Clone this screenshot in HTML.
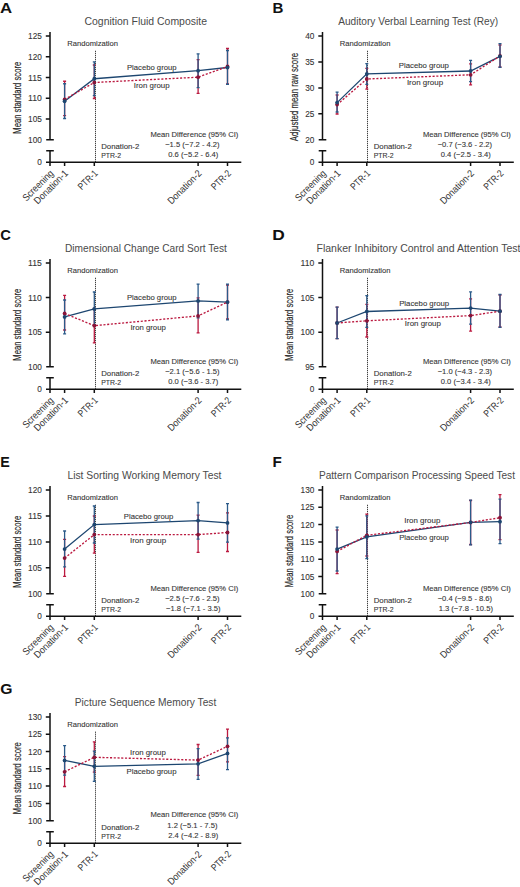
<!DOCTYPE html>
<html><head><meta charset="utf-8"><style>
html,body{margin:0;padding:0;background:#fff;}
svg{display:block;}
text{font-family:"Liberation Sans", sans-serif;}
text.s{stroke:#3a3a3a;stroke-width:0.1px;}
</style></head><body>
<svg width="520" height="887" viewBox="0 0 520 887">
<rect width="520" height="887" fill="#fff"/>
<text transform="translate(-0.1,12.75) scale(1.136,1)" font-size="14.8" font-weight="bold" fill="#111">A</text>
<text x="84.5" y="25.3" font-size="10.6" fill="#4a4a4a" textLength="122.5" lengthAdjust="spacingAndGlyphs">Cognition Fluid Composite</text>
<text transform="translate(20.9,97.75) rotate(-90)" x="0" y="0" text-anchor="middle" font-size="10.2" fill="#2a2a2a" stroke="#2a2a2a" stroke-width="0.18" textLength="71.9" lengthAdjust="spacingAndGlyphs">Mean standard score</text>
<path d="M50 32V139.8 M46.2 139.8H53.8 M46.2 150.8H53.8 M50 150.8V162.3 M46 162.3H241.3 M45.8 36H50 M45.8 56.76H50 M45.8 77.52H50 M45.8 98.28H50 M45.8 119.04H50 M50 162.3V166 M64.6 162.3V166 M94.3 162.3V166 M198.1 162.3V166 M227.5 162.3V166" stroke="#111" stroke-width="1.5" fill="none"/>
<text x="41.9" y="39.1" font-size="8.8" fill="#333" text-anchor="end" textLength="13.8" lengthAdjust="spacingAndGlyphs" class="s">125</text>
<text x="41.9" y="59.86" font-size="8.8" fill="#333" text-anchor="end" textLength="13.8" lengthAdjust="spacingAndGlyphs" class="s">120</text>
<text x="41.9" y="80.62" font-size="8.8" fill="#333" text-anchor="end" textLength="13.8" lengthAdjust="spacingAndGlyphs" class="s">115</text>
<text x="41.9" y="101.38" font-size="8.8" fill="#333" text-anchor="end" textLength="13.8" lengthAdjust="spacingAndGlyphs" class="s">110</text>
<text x="41.9" y="122.14" font-size="8.8" fill="#333" text-anchor="end" textLength="13.8" lengthAdjust="spacingAndGlyphs" class="s">105</text>
<text x="41.9" y="142.9" font-size="8.8" fill="#333" text-anchor="end" textLength="13.8" lengthAdjust="spacingAndGlyphs" class="s">100</text>
<text x="41.9" y="165.4" font-size="8.8" fill="#333" text-anchor="end" textLength="4.6" lengthAdjust="spacingAndGlyphs" class="s">0</text>
<text x="67.3" y="45.7" font-size="7.5" fill="#333" textLength="50.7" lengthAdjust="spacingAndGlyphs" class="s">Randomization</text>
<path d="M95.5 50.8V162" stroke="#111" stroke-width="1" stroke-dasharray="1 1" fill="none"/>
<text transform="translate(54.1,174) rotate(-45)" x="0" y="0" text-anchor="end" font-size="9.9" fill="#333" textLength="39.2" lengthAdjust="spacingAndGlyphs">Screening</text>
<text transform="translate(68.7,174) rotate(-45)" x="0" y="0" text-anchor="end" font-size="9.9" fill="#333" textLength="43.6" lengthAdjust="spacingAndGlyphs">Donation-1</text>
<text transform="translate(98.4,174) rotate(-45)" x="0" y="0" text-anchor="end" font-size="9.9" fill="#333" textLength="23.5" lengthAdjust="spacingAndGlyphs">PTR-1</text>
<text transform="translate(202.2,174) rotate(-45)" x="0" y="0" text-anchor="end" font-size="9.9" fill="#333" textLength="43.4" lengthAdjust="spacingAndGlyphs">Donation-2</text>
<text transform="translate(231.6,174) rotate(-45)" x="0" y="0" text-anchor="end" font-size="9.9" fill="#333" textLength="23.5" lengthAdjust="spacingAndGlyphs">PTR-2</text>
<text x="150.4" y="136.5" font-size="7.7" fill="#333" textLength="88" lengthAdjust="spacingAndGlyphs" class="s">Mean Difference (95% CI)</text>
<text x="101.2" y="148.8" font-size="7.7" fill="#333" textLength="38.1" lengthAdjust="spacingAndGlyphs" class="s">Donation-2</text>
<text x="101.2" y="157.9" font-size="7.7" fill="#333" textLength="20" lengthAdjust="spacingAndGlyphs" class="s">PTR-2</text>
<text x="192.4" y="146.6" font-size="7.7" fill="#333" text-anchor="middle" textLength="54.5" lengthAdjust="spacingAndGlyphs" class="s">−1.5 (−7.2 - 4.2)</text>
<text x="193.3" y="156.8" font-size="7.7" fill="#333" text-anchor="middle" textLength="50.06" lengthAdjust="spacingAndGlyphs" class="s">0.6 (−5.2 - 6.4)</text>
<text x="127" y="69.9" font-size="7.8" fill="#333" textLength="49.5" lengthAdjust="spacingAndGlyphs" class="s">Placebo group</text>
<text x="133.8" y="88.1" font-size="7.8" fill="#333" textLength="35.8" lengthAdjust="spacingAndGlyphs" class="s">Iron group</text>
<path d="M64.6 81.25V115.6 M63.1 81.25H66.1 M63.1 115.6H66.1 M94.3 65V98.5 M92.8 65H95.8 M92.8 98.5H95.8 M198.1 59.6V93.4 M196.6 59.6H199.6 M196.6 93.4H199.6 M227.5 48.5V84 M226 48.5H229 M226 84H229" stroke="#bb1a40" stroke-width="1.3" fill="none"/>
<path d="M64.6 83.75V118.5 M63.1 83.75H66.1 M63.1 118.5H66.1 M94.3 61.9V95.6 M92.8 61.9H95.8 M92.8 95.6H95.8 M198.1 53.8V87.6 M196.6 53.8H199.6 M196.6 87.6H199.6 M227.5 50.5V84.4 M226 50.5H229 M226 84.4H229" stroke="#2b5a89" stroke-width="1.3" fill="none"/>
<polyline points="64.6,101.25 94.3,78.75 198.1,70.7 227.5,67.5" stroke="#1d4670" stroke-width="1.3" fill="none"/>
<polyline points="64.6,99.4 94.3,82.5 198.1,77.2 227.5,66.5" stroke="#bb1a40" stroke-width="1.35" stroke-dasharray="2.1 1.65" fill="none"/>
<circle cx="64.6" cy="99.4" r="1.9" fill="#8a1438"/>
<circle cx="94.3" cy="82.5" r="1.9" fill="#8a1438"/>
<circle cx="198.1" cy="77.2" r="1.9" fill="#8a1438"/>
<circle cx="227.5" cy="66.5" r="1.9" fill="#8a1438"/>
<circle cx="64.6" cy="101.25" r="1.9" fill="#1d4670"/>
<circle cx="94.3" cy="78.75" r="1.9" fill="#1d4670"/>
<circle cx="198.1" cy="70.7" r="1.9" fill="#1d4670"/>
<circle cx="227.5" cy="67.5" r="1.9" fill="#1d4670"/>
<text transform="translate(272.44,12.75) scale(1.019,1)" font-size="14.8" font-weight="bold" fill="#111">B</text>
<text x="338.2" y="25.3" font-size="10.6" fill="#4a4a4a" textLength="160" lengthAdjust="spacingAndGlyphs">Auditory Verbal Learning Test (Rey)</text>
<text transform="translate(298.3,97.05) rotate(-90)" x="0" y="0" text-anchor="middle" font-size="10.6" fill="#2a2a2a" stroke="#2a2a2a" stroke-width="0.18" textLength="88.3" lengthAdjust="spacingAndGlyphs">Adjusted mean raw score</text>
<path d="M322.5 32V139.8 M318.7 139.8H326.3 M318.7 150.8H326.3 M322.5 150.8V162.3 M318.5 162.3H513.8 M318.3 36H322.5 M318.3 61.95H322.5 M318.3 87.9H322.5 M318.3 113.85H322.5 M322.5 162.3V166 M337.1 162.3V166 M366.8 162.3V166 M470.6 162.3V166 M500 162.3V166" stroke="#111" stroke-width="1.5" fill="none"/>
<text x="314.4" y="39.1" font-size="8.8" fill="#333" text-anchor="end" textLength="9.2" lengthAdjust="spacingAndGlyphs" class="s">40</text>
<text x="314.4" y="65.05" font-size="8.8" fill="#333" text-anchor="end" textLength="9.2" lengthAdjust="spacingAndGlyphs" class="s">35</text>
<text x="314.4" y="91" font-size="8.8" fill="#333" text-anchor="end" textLength="9.2" lengthAdjust="spacingAndGlyphs" class="s">30</text>
<text x="314.4" y="116.95" font-size="8.8" fill="#333" text-anchor="end" textLength="9.2" lengthAdjust="spacingAndGlyphs" class="s">25</text>
<text x="314.4" y="142.9" font-size="8.8" fill="#333" text-anchor="end" textLength="9.2" lengthAdjust="spacingAndGlyphs" class="s">20</text>
<text x="314.4" y="165.4" font-size="8.8" fill="#333" text-anchor="end" textLength="4.6" lengthAdjust="spacingAndGlyphs" class="s">0</text>
<text x="339.8" y="45.7" font-size="7.5" fill="#333" textLength="50.7" lengthAdjust="spacingAndGlyphs" class="s">Randomization</text>
<path d="M367.5 50.8V162" stroke="#111" stroke-width="1" stroke-dasharray="1 1" fill="none"/>
<text transform="translate(326.6,174) rotate(-45)" x="0" y="0" text-anchor="end" font-size="9.9" fill="#333" textLength="39.2" lengthAdjust="spacingAndGlyphs">Screening</text>
<text transform="translate(341.2,174) rotate(-45)" x="0" y="0" text-anchor="end" font-size="9.9" fill="#333" textLength="43.6" lengthAdjust="spacingAndGlyphs">Donation-1</text>
<text transform="translate(370.9,174) rotate(-45)" x="0" y="0" text-anchor="end" font-size="9.9" fill="#333" textLength="23.5" lengthAdjust="spacingAndGlyphs">PTR-1</text>
<text transform="translate(474.7,174) rotate(-45)" x="0" y="0" text-anchor="end" font-size="9.9" fill="#333" textLength="43.4" lengthAdjust="spacingAndGlyphs">Donation-2</text>
<text transform="translate(504.1,174) rotate(-45)" x="0" y="0" text-anchor="end" font-size="9.9" fill="#333" textLength="23.5" lengthAdjust="spacingAndGlyphs">PTR-2</text>
<text x="422.9" y="136.5" font-size="7.7" fill="#333" textLength="88" lengthAdjust="spacingAndGlyphs" class="s">Mean Difference (95% CI)</text>
<text x="373.7" y="148.8" font-size="7.7" fill="#333" textLength="38.1" lengthAdjust="spacingAndGlyphs" class="s">Donation-2</text>
<text x="373.7" y="157.9" font-size="7.7" fill="#333" textLength="20" lengthAdjust="spacingAndGlyphs" class="s">PTR-2</text>
<text x="464.9" y="146.6" font-size="7.7" fill="#333" text-anchor="middle" textLength="54.5" lengthAdjust="spacingAndGlyphs" class="s">−0.7 (−3.6 - 2.2)</text>
<text x="465.8" y="156.8" font-size="7.7" fill="#333" text-anchor="middle" textLength="50.06" lengthAdjust="spacingAndGlyphs" class="s">0.4 (−2.5 - 3.4)</text>
<text x="398.8" y="68.1" font-size="7.8" fill="#333" textLength="50.1" lengthAdjust="spacingAndGlyphs" class="s">Placebo group</text>
<text x="406.9" y="85" font-size="7.8" fill="#333" textLength="36.2" lengthAdjust="spacingAndGlyphs" class="s">Iron group</text>
<path d="M337.1 95V114 M335.6 95H338.6 M335.6 114H338.6 M366.8 68.3V89.1 M365.3 68.3H368.3 M365.3 89.1H368.3 M470.6 63.8V84.8 M469.1 63.8H472.1 M469.1 84.8H472.1 M500 45V67 M498.5 45H501.5 M498.5 67H501.5" stroke="#bb1a40" stroke-width="1.3" fill="none"/>
<path d="M337.1 92.2V112 M335.6 92.2H338.6 M335.6 112H338.6 M366.8 63.6V84.4 M365.3 63.6H368.3 M365.3 84.4H368.3 M470.6 60.4V81.7 M469.1 60.4H472.1 M469.1 81.7H472.1 M500 43.7V67.3 M498.5 43.7H501.5 M498.5 67.3H501.5" stroke="#2b5a89" stroke-width="1.3" fill="none"/>
<polyline points="337.1,102.6 366.8,73.9 470.6,71 500,56.3" stroke="#1d4670" stroke-width="1.3" fill="none"/>
<polyline points="337.1,104.6 366.8,79 470.6,74.8 500,56" stroke="#bb1a40" stroke-width="1.35" stroke-dasharray="2.1 1.65" fill="none"/>
<circle cx="337.1" cy="104.6" r="1.9" fill="#8a1438"/>
<circle cx="366.8" cy="79" r="1.9" fill="#8a1438"/>
<circle cx="470.6" cy="74.8" r="1.9" fill="#8a1438"/>
<circle cx="500" cy="56" r="1.9" fill="#8a1438"/>
<circle cx="337.1" cy="102.6" r="1.9" fill="#1d4670"/>
<circle cx="366.8" cy="73.9" r="1.9" fill="#1d4670"/>
<circle cx="470.6" cy="71" r="1.9" fill="#1d4670"/>
<circle cx="500" cy="56.3" r="1.9" fill="#1d4670"/>
<text transform="translate(0.21,239.75) scale(0.998,1)" font-size="14.8" font-weight="bold" fill="#111">C</text>
<text x="65" y="252.3" font-size="10.6" fill="#4a4a4a" textLength="161.9" lengthAdjust="spacingAndGlyphs">Dimensional Change Card Sort Test</text>
<text transform="translate(20.9,324.75) rotate(-90)" x="0" y="0" text-anchor="middle" font-size="10.2" fill="#2a2a2a" stroke="#2a2a2a" stroke-width="0.18" textLength="71.9" lengthAdjust="spacingAndGlyphs">Mean standard score</text>
<path d="M50 259V366.8 M46.2 366.8H53.8 M46.2 377.8H53.8 M50 377.8V389.3 M46 389.3H241.3 M45.8 263H50 M45.8 297.6H50 M45.8 332.2H50 M50 389.3V393 M64.6 389.3V393 M94.3 389.3V393 M198.1 389.3V393 M227.5 389.3V393" stroke="#111" stroke-width="1.5" fill="none"/>
<text x="41.9" y="266.1" font-size="8.8" fill="#333" text-anchor="end" textLength="13.8" lengthAdjust="spacingAndGlyphs" class="s">115</text>
<text x="41.9" y="300.7" font-size="8.8" fill="#333" text-anchor="end" textLength="13.8" lengthAdjust="spacingAndGlyphs" class="s">110</text>
<text x="41.9" y="335.3" font-size="8.8" fill="#333" text-anchor="end" textLength="13.8" lengthAdjust="spacingAndGlyphs" class="s">105</text>
<text x="41.9" y="369.9" font-size="8.8" fill="#333" text-anchor="end" textLength="13.8" lengthAdjust="spacingAndGlyphs" class="s">100</text>
<text x="41.9" y="392.4" font-size="8.8" fill="#333" text-anchor="end" textLength="4.6" lengthAdjust="spacingAndGlyphs" class="s">0</text>
<text x="67.3" y="272.7" font-size="7.5" fill="#333" textLength="50.7" lengthAdjust="spacingAndGlyphs" class="s">Randomization</text>
<path d="M95.5 277.8V389" stroke="#111" stroke-width="1" stroke-dasharray="1 1" fill="none"/>
<text transform="translate(54.1,401) rotate(-45)" x="0" y="0" text-anchor="end" font-size="9.9" fill="#333" textLength="39.2" lengthAdjust="spacingAndGlyphs">Screening</text>
<text transform="translate(68.7,401) rotate(-45)" x="0" y="0" text-anchor="end" font-size="9.9" fill="#333" textLength="43.6" lengthAdjust="spacingAndGlyphs">Donation-1</text>
<text transform="translate(98.4,401) rotate(-45)" x="0" y="0" text-anchor="end" font-size="9.9" fill="#333" textLength="23.5" lengthAdjust="spacingAndGlyphs">PTR-1</text>
<text transform="translate(202.2,401) rotate(-45)" x="0" y="0" text-anchor="end" font-size="9.9" fill="#333" textLength="43.4" lengthAdjust="spacingAndGlyphs">Donation-2</text>
<text transform="translate(231.6,401) rotate(-45)" x="0" y="0" text-anchor="end" font-size="9.9" fill="#333" textLength="23.5" lengthAdjust="spacingAndGlyphs">PTR-2</text>
<text x="150.4" y="363.5" font-size="7.7" fill="#333" textLength="88" lengthAdjust="spacingAndGlyphs" class="s">Mean Difference (95% CI)</text>
<text x="101.2" y="375.8" font-size="7.7" fill="#333" textLength="38.1" lengthAdjust="spacingAndGlyphs" class="s">Donation-2</text>
<text x="101.2" y="384.9" font-size="7.7" fill="#333" textLength="20" lengthAdjust="spacingAndGlyphs" class="s">PTR-2</text>
<text x="192.4" y="373.6" font-size="7.7" fill="#333" text-anchor="middle" textLength="54.5" lengthAdjust="spacingAndGlyphs" class="s">−2.1 (−5.6 - 1.5)</text>
<text x="193.3" y="383.8" font-size="7.7" fill="#333" text-anchor="middle" textLength="50.06" lengthAdjust="spacingAndGlyphs" class="s">0.0 (−3.6 - 3.7)</text>
<text x="127" y="299.6" font-size="7.8" fill="#333" textLength="49.5" lengthAdjust="spacingAndGlyphs" class="s">Placebo group</text>
<text x="130.4" y="329.6" font-size="7.8" fill="#333" textLength="35.4" lengthAdjust="spacingAndGlyphs" class="s">Iron group</text>
<path d="M64.6 295.4V330 M63.1 295.4H66.1 M63.1 330H66.1 M94.3 308.5V342.8 M92.8 308.5H95.8 M92.8 342.8H95.8 M198.1 297.9V332.9 M196.6 297.9H199.6 M196.6 332.9H199.6 M227.5 285V319 M226 285H229 M226 319H229" stroke="#bb1a40" stroke-width="1.3" fill="none"/>
<path d="M64.6 300V333.8 M63.1 300H66.1 M63.1 333.8H66.1 M94.3 292V325.5 M92.8 292H95.8 M92.8 325.5H95.8 M198.1 284.1V317.9 M196.6 284.1H199.6 M196.6 317.9H199.6 M227.5 284.1V319.8 M226 284.1H229 M226 319.8H229" stroke="#2b5a89" stroke-width="1.3" fill="none"/>
<polyline points="64.6,316.9 94.3,308.9 198.1,300.9 227.5,302.1" stroke="#1d4670" stroke-width="1.3" fill="none"/>
<polyline points="64.6,313.5 94.3,325.7 198.1,315.9 227.5,302.1" stroke="#bb1a40" stroke-width="1.35" stroke-dasharray="2.1 1.65" fill="none"/>
<circle cx="64.6" cy="313.5" r="1.9" fill="#8a1438"/>
<circle cx="94.3" cy="325.7" r="1.9" fill="#8a1438"/>
<circle cx="198.1" cy="315.9" r="1.9" fill="#8a1438"/>
<circle cx="227.5" cy="302.1" r="1.9" fill="#8a1438"/>
<circle cx="64.6" cy="316.9" r="1.9" fill="#1d4670"/>
<circle cx="94.3" cy="308.9" r="1.9" fill="#1d4670"/>
<circle cx="198.1" cy="300.9" r="1.9" fill="#1d4670"/>
<circle cx="227.5" cy="302.1" r="1.9" fill="#1d4670"/>
<text transform="translate(272.28,239.75) scale(1.174,1)" font-size="14.8" font-weight="bold" fill="#111">D</text>
<text x="316.5" y="252.3" font-size="10.6" fill="#4a4a4a" textLength="204" lengthAdjust="spacingAndGlyphs">Flanker Inhibitory Control and Attention Test</text>
<text transform="translate(293.4,324.75) rotate(-90)" x="0" y="0" text-anchor="middle" font-size="10.2" fill="#2a2a2a" stroke="#2a2a2a" stroke-width="0.18" textLength="71.9" lengthAdjust="spacingAndGlyphs">Mean standard score</text>
<path d="M322.5 259V366.8 M318.7 366.8H326.3 M318.7 377.8H326.3 M322.5 377.8V389.3 M318.5 389.3H513.8 M318.3 263H322.5 M318.3 297.6H322.5 M318.3 332.2H322.5 M322.5 389.3V393 M337.1 389.3V393 M366.8 389.3V393 M470.6 389.3V393 M500 389.3V393" stroke="#111" stroke-width="1.5" fill="none"/>
<text x="314.4" y="266.1" font-size="8.8" fill="#333" text-anchor="end" textLength="13.8" lengthAdjust="spacingAndGlyphs" class="s">110</text>
<text x="314.4" y="300.7" font-size="8.8" fill="#333" text-anchor="end" textLength="13.8" lengthAdjust="spacingAndGlyphs" class="s">105</text>
<text x="314.4" y="335.3" font-size="8.8" fill="#333" text-anchor="end" textLength="13.8" lengthAdjust="spacingAndGlyphs" class="s">100</text>
<text x="314.4" y="369.9" font-size="8.8" fill="#333" text-anchor="end" textLength="9.2" lengthAdjust="spacingAndGlyphs" class="s">95</text>
<text x="314.4" y="392.4" font-size="8.8" fill="#333" text-anchor="end" textLength="4.6" lengthAdjust="spacingAndGlyphs" class="s">0</text>
<text x="339.8" y="272.7" font-size="7.5" fill="#333" textLength="50.7" lengthAdjust="spacingAndGlyphs" class="s">Randomization</text>
<path d="M367.5 277.8V389" stroke="#111" stroke-width="1" stroke-dasharray="1 1" fill="none"/>
<text transform="translate(326.6,401) rotate(-45)" x="0" y="0" text-anchor="end" font-size="9.9" fill="#333" textLength="39.2" lengthAdjust="spacingAndGlyphs">Screening</text>
<text transform="translate(341.2,401) rotate(-45)" x="0" y="0" text-anchor="end" font-size="9.9" fill="#333" textLength="43.6" lengthAdjust="spacingAndGlyphs">Donation-1</text>
<text transform="translate(370.9,401) rotate(-45)" x="0" y="0" text-anchor="end" font-size="9.9" fill="#333" textLength="23.5" lengthAdjust="spacingAndGlyphs">PTR-1</text>
<text transform="translate(474.7,401) rotate(-45)" x="0" y="0" text-anchor="end" font-size="9.9" fill="#333" textLength="43.4" lengthAdjust="spacingAndGlyphs">Donation-2</text>
<text transform="translate(504.1,401) rotate(-45)" x="0" y="0" text-anchor="end" font-size="9.9" fill="#333" textLength="23.5" lengthAdjust="spacingAndGlyphs">PTR-2</text>
<text x="422.9" y="363.5" font-size="7.7" fill="#333" textLength="88" lengthAdjust="spacingAndGlyphs" class="s">Mean Difference (95% CI)</text>
<text x="373.7" y="375.8" font-size="7.7" fill="#333" textLength="38.1" lengthAdjust="spacingAndGlyphs" class="s">Donation-2</text>
<text x="373.7" y="384.9" font-size="7.7" fill="#333" textLength="20" lengthAdjust="spacingAndGlyphs" class="s">PTR-2</text>
<text x="464.9" y="373.6" font-size="7.7" fill="#333" text-anchor="middle" textLength="54.5" lengthAdjust="spacingAndGlyphs" class="s">−1.0 (−4.3 - 2.3)</text>
<text x="465.8" y="383.8" font-size="7.7" fill="#333" text-anchor="middle" textLength="50.06" lengthAdjust="spacingAndGlyphs" class="s">0.0 (−3.4 - 3.4)</text>
<text x="399.2" y="305.5" font-size="7.8" fill="#333" textLength="50" lengthAdjust="spacingAndGlyphs" class="s">Placebo group</text>
<text x="404.8" y="326.3" font-size="7.8" fill="#333" textLength="36.1" lengthAdjust="spacingAndGlyphs" class="s">Iron group</text>
<path d="M337.1 307.1V338.7 M335.6 307.1H338.6 M335.6 338.7H338.6 M366.8 304.4V337 M365.3 304.4H368.3 M365.3 337H368.3 M470.6 298.8V331.1 M469.1 298.8H472.1 M469.1 331.1H472.1 M500 295V327 M498.5 295H501.5 M498.5 327H501.5" stroke="#bb1a40" stroke-width="1.3" fill="none"/>
<path d="M337.1 307.1V338.7 M335.6 307.1H338.6 M335.6 338.7H338.6 M366.8 295.7V327.3 M365.3 295.7H368.3 M365.3 327.3H368.3 M470.6 291.9V324.2 M469.1 291.9H472.1 M469.1 324.2H472.1 M500 294.5V327.3 M498.5 294.5H501.5 M498.5 327.3H501.5" stroke="#2b5a89" stroke-width="1.3" fill="none"/>
<polyline points="337.1,323 366.8,311.5 470.6,308.1 500,311.2" stroke="#1d4670" stroke-width="1.3" fill="none"/>
<polyline points="337.1,323 366.8,320.8 470.6,315.6 500,311.2" stroke="#bb1a40" stroke-width="1.35" stroke-dasharray="2.1 1.65" fill="none"/>
<circle cx="337.1" cy="323" r="1.9" fill="#8a1438"/>
<circle cx="366.8" cy="320.8" r="1.9" fill="#8a1438"/>
<circle cx="470.6" cy="315.6" r="1.9" fill="#8a1438"/>
<circle cx="500" cy="311.2" r="1.9" fill="#8a1438"/>
<circle cx="337.1" cy="323" r="1.9" fill="#1d4670"/>
<circle cx="366.8" cy="311.5" r="1.9" fill="#1d4670"/>
<circle cx="470.6" cy="308.1" r="1.9" fill="#1d4670"/>
<circle cx="500" cy="311.2" r="1.9" fill="#1d4670"/>
<text transform="translate(0.15,466.75) scale(0.965,1)" font-size="14.8" font-weight="bold" fill="#111">E</text>
<text x="67.4" y="479.3" font-size="10.6" fill="#4a4a4a" textLength="154.1" lengthAdjust="spacingAndGlyphs">List Sorting Working Memory Test</text>
<text transform="translate(20.9,551.75) rotate(-90)" x="0" y="0" text-anchor="middle" font-size="10.2" fill="#2a2a2a" stroke="#2a2a2a" stroke-width="0.18" textLength="71.9" lengthAdjust="spacingAndGlyphs">Mean standard score</text>
<path d="M50 486V593.8 M46.2 593.8H53.8 M46.2 604.8H53.8 M50 604.8V616.3 M46 616.3H241.3 M45.8 490H50 M45.8 515.95H50 M45.8 541.9H50 M45.8 567.85H50 M50 616.3V620 M64.6 616.3V620 M94.3 616.3V620 M198.1 616.3V620 M227.5 616.3V620" stroke="#111" stroke-width="1.5" fill="none"/>
<text x="41.9" y="493.1" font-size="8.8" fill="#333" text-anchor="end" textLength="13.8" lengthAdjust="spacingAndGlyphs" class="s">120</text>
<text x="41.9" y="519.05" font-size="8.8" fill="#333" text-anchor="end" textLength="13.8" lengthAdjust="spacingAndGlyphs" class="s">115</text>
<text x="41.9" y="545" font-size="8.8" fill="#333" text-anchor="end" textLength="13.8" lengthAdjust="spacingAndGlyphs" class="s">110</text>
<text x="41.9" y="570.95" font-size="8.8" fill="#333" text-anchor="end" textLength="13.8" lengthAdjust="spacingAndGlyphs" class="s">105</text>
<text x="41.9" y="596.9" font-size="8.8" fill="#333" text-anchor="end" textLength="13.8" lengthAdjust="spacingAndGlyphs" class="s">100</text>
<text x="41.9" y="619.4" font-size="8.8" fill="#333" text-anchor="end" textLength="4.6" lengthAdjust="spacingAndGlyphs" class="s">0</text>
<text x="67.3" y="499.7" font-size="7.5" fill="#333" textLength="50.7" lengthAdjust="spacingAndGlyphs" class="s">Randomization</text>
<path d="M95.5 504.8V616" stroke="#111" stroke-width="1" stroke-dasharray="1 1" fill="none"/>
<text transform="translate(54.1,628) rotate(-45)" x="0" y="0" text-anchor="end" font-size="9.9" fill="#333" textLength="39.2" lengthAdjust="spacingAndGlyphs">Screening</text>
<text transform="translate(68.7,628) rotate(-45)" x="0" y="0" text-anchor="end" font-size="9.9" fill="#333" textLength="43.6" lengthAdjust="spacingAndGlyphs">Donation-1</text>
<text transform="translate(98.4,628) rotate(-45)" x="0" y="0" text-anchor="end" font-size="9.9" fill="#333" textLength="23.5" lengthAdjust="spacingAndGlyphs">PTR-1</text>
<text transform="translate(202.2,628) rotate(-45)" x="0" y="0" text-anchor="end" font-size="9.9" fill="#333" textLength="43.4" lengthAdjust="spacingAndGlyphs">Donation-2</text>
<text transform="translate(231.6,628) rotate(-45)" x="0" y="0" text-anchor="end" font-size="9.9" fill="#333" textLength="23.5" lengthAdjust="spacingAndGlyphs">PTR-2</text>
<text x="150.4" y="590.5" font-size="7.7" fill="#333" textLength="88" lengthAdjust="spacingAndGlyphs" class="s">Mean Difference (95% CI)</text>
<text x="101.2" y="602.8" font-size="7.7" fill="#333" textLength="38.1" lengthAdjust="spacingAndGlyphs" class="s">Donation-2</text>
<text x="101.2" y="611.9" font-size="7.7" fill="#333" textLength="20" lengthAdjust="spacingAndGlyphs" class="s">PTR-2</text>
<text x="192.4" y="600.6" font-size="7.7" fill="#333" text-anchor="middle" textLength="54.5" lengthAdjust="spacingAndGlyphs" class="s">−2.5 (−7.6 - 2.5)</text>
<text x="193.3" y="610.8" font-size="7.7" fill="#333" text-anchor="middle" textLength="54.5" lengthAdjust="spacingAndGlyphs" class="s">−1.8 (−7.1 - 3.5)</text>
<text x="123.8" y="518.8" font-size="7.8" fill="#333" textLength="49.6" lengthAdjust="spacingAndGlyphs" class="s">Placebo group</text>
<text x="130" y="542.7" font-size="7.8" fill="#333" textLength="36.2" lengthAdjust="spacingAndGlyphs" class="s">Iron group</text>
<path d="M64.6 539.4V576.4 M63.1 539.4H66.1 M63.1 576.4H66.1 M94.3 516V553.2 M92.8 516H95.8 M92.8 553.2H95.8 M198.1 515.2V552.3 M196.6 515.2H199.6 M196.6 552.3H199.6 M227.5 512.9V551.5 M226 512.9H229 M226 551.5H229" stroke="#bb1a40" stroke-width="1.3" fill="none"/>
<path d="M64.6 531V566.9 M63.1 531H66.1 M63.1 566.9H66.1 M94.3 506V543 M92.8 506H95.8 M92.8 543H95.8 M198.1 502.5V539.2 M196.6 502.5H199.6 M196.6 539.2H199.6 M227.5 503.7V542.1 M226 503.7H229 M226 542.1H229" stroke="#2b5a89" stroke-width="1.3" fill="none"/>
<polyline points="64.6,549.1 94.3,524.6 198.1,520.6 227.5,522.9" stroke="#1d4670" stroke-width="1.3" fill="none"/>
<polyline points="64.6,558.1 94.3,534.6 198.1,534.6 227.5,532.5" stroke="#bb1a40" stroke-width="1.35" stroke-dasharray="2.1 1.65" fill="none"/>
<circle cx="64.6" cy="558.1" r="1.9" fill="#8a1438"/>
<circle cx="94.3" cy="534.6" r="1.9" fill="#8a1438"/>
<circle cx="198.1" cy="534.6" r="1.9" fill="#8a1438"/>
<circle cx="227.5" cy="532.5" r="1.9" fill="#8a1438"/>
<circle cx="64.6" cy="549.1" r="1.9" fill="#1d4670"/>
<circle cx="94.3" cy="524.6" r="1.9" fill="#1d4670"/>
<circle cx="198.1" cy="520.6" r="1.9" fill="#1d4670"/>
<circle cx="227.5" cy="522.9" r="1.9" fill="#1d4670"/>
<text transform="translate(272.54,466.75) scale(1.027,1)" font-size="14.8" font-weight="bold" fill="#111">F</text>
<text x="318.9" y="479.3" font-size="10.6" fill="#4a4a4a" textLength="196.1" lengthAdjust="spacingAndGlyphs">Pattern Comparison Processing Speed Test</text>
<text transform="translate(293.4,551.15) rotate(-90)" x="0" y="0" text-anchor="middle" font-size="10.2" fill="#2a2a2a" stroke="#2a2a2a" stroke-width="0.18" textLength="72.7" lengthAdjust="spacingAndGlyphs">Mean standard score</text>
<path d="M322.5 486V593.8 M318.7 593.8H326.3 M318.7 604.8H326.3 M322.5 604.8V616.3 M318.5 616.3H513.8 M318.3 490H322.5 M318.3 507.3H322.5 M318.3 524.6H322.5 M318.3 541.9H322.5 M318.3 559.2H322.5 M318.3 576.5H322.5 M322.5 616.3V620 M337.1 616.3V620 M366.8 616.3V620 M470.6 616.3V620 M500 616.3V620" stroke="#111" stroke-width="1.5" fill="none"/>
<text x="314.4" y="493.1" font-size="8.8" fill="#333" text-anchor="end" textLength="13.8" lengthAdjust="spacingAndGlyphs" class="s">130</text>
<text x="314.4" y="510.4" font-size="8.8" fill="#333" text-anchor="end" textLength="13.8" lengthAdjust="spacingAndGlyphs" class="s">125</text>
<text x="314.4" y="527.7" font-size="8.8" fill="#333" text-anchor="end" textLength="13.8" lengthAdjust="spacingAndGlyphs" class="s">120</text>
<text x="314.4" y="545" font-size="8.8" fill="#333" text-anchor="end" textLength="13.8" lengthAdjust="spacingAndGlyphs" class="s">115</text>
<text x="314.4" y="562.3" font-size="8.8" fill="#333" text-anchor="end" textLength="13.8" lengthAdjust="spacingAndGlyphs" class="s">110</text>
<text x="314.4" y="579.6" font-size="8.8" fill="#333" text-anchor="end" textLength="13.8" lengthAdjust="spacingAndGlyphs" class="s">105</text>
<text x="314.4" y="596.9" font-size="8.8" fill="#333" text-anchor="end" textLength="13.8" lengthAdjust="spacingAndGlyphs" class="s">100</text>
<text x="314.4" y="619.4" font-size="8.8" fill="#333" text-anchor="end" textLength="4.6" lengthAdjust="spacingAndGlyphs" class="s">0</text>
<text x="339.8" y="499.7" font-size="7.5" fill="#333" textLength="50.7" lengthAdjust="spacingAndGlyphs" class="s">Randomization</text>
<path d="M367.5 504.8V616" stroke="#111" stroke-width="1" stroke-dasharray="1 1" fill="none"/>
<text transform="translate(326.6,628) rotate(-45)" x="0" y="0" text-anchor="end" font-size="9.9" fill="#333" textLength="39.2" lengthAdjust="spacingAndGlyphs">Screening</text>
<text transform="translate(341.2,628) rotate(-45)" x="0" y="0" text-anchor="end" font-size="9.9" fill="#333" textLength="43.6" lengthAdjust="spacingAndGlyphs">Donation-1</text>
<text transform="translate(370.9,628) rotate(-45)" x="0" y="0" text-anchor="end" font-size="9.9" fill="#333" textLength="23.5" lengthAdjust="spacingAndGlyphs">PTR-1</text>
<text transform="translate(474.7,628) rotate(-45)" x="0" y="0" text-anchor="end" font-size="9.9" fill="#333" textLength="43.4" lengthAdjust="spacingAndGlyphs">Donation-2</text>
<text transform="translate(504.1,628) rotate(-45)" x="0" y="0" text-anchor="end" font-size="9.9" fill="#333" textLength="23.5" lengthAdjust="spacingAndGlyphs">PTR-2</text>
<text x="422.9" y="590.5" font-size="7.7" fill="#333" textLength="88" lengthAdjust="spacingAndGlyphs" class="s">Mean Difference (95% CI)</text>
<text x="373.7" y="602.8" font-size="7.7" fill="#333" textLength="38.1" lengthAdjust="spacingAndGlyphs" class="s">Donation-2</text>
<text x="373.7" y="611.9" font-size="7.7" fill="#333" textLength="20" lengthAdjust="spacingAndGlyphs" class="s">PTR-2</text>
<text x="464.9" y="600.6" font-size="7.7" fill="#333" text-anchor="middle" textLength="54.5" lengthAdjust="spacingAndGlyphs" class="s">−0.4 (−9.5 - 8.6)</text>
<text x="465.8" y="610.8" font-size="7.7" fill="#333" text-anchor="middle" textLength="54.28" lengthAdjust="spacingAndGlyphs" class="s">1.3 (−7.8 - 10.5)</text>
<text x="399.2" y="539.6" font-size="7.8" fill="#333" textLength="49.7" lengthAdjust="spacingAndGlyphs" class="s">Placebo group</text>
<text x="404.3" y="523.2" font-size="7.8" fill="#333" textLength="36" lengthAdjust="spacingAndGlyphs" class="s">Iron group</text>
<path d="M337.1 530V573.6 M335.6 530H338.6 M335.6 573.6H338.6 M366.8 514.2V556 M365.3 514.2H368.3 M365.3 556H368.3 M470.6 500.5V544.5 M469.1 500.5H472.1 M469.1 544.5H472.1 M500 494.6V539.6 M498.5 494.6H501.5 M498.5 539.6H501.5" stroke="#bb1a40" stroke-width="1.3" fill="none"/>
<path d="M337.1 527.2V571 M335.6 527.2H338.6 M335.6 571H338.6 M366.8 515.8V558.6 M365.3 515.8H368.3 M365.3 558.6H368.3 M470.6 500.1V544.8 M469.1 500.1H472.1 M469.1 544.8H472.1 M500 499.2V543.6 M498.5 499.2H501.5 M498.5 543.6H501.5" stroke="#2b5a89" stroke-width="1.3" fill="none"/>
<polyline points="337.1,549.1 366.8,536.9 470.6,522.3 500,521.7" stroke="#1d4670" stroke-width="1.3" fill="none"/>
<polyline points="337.1,551.4 366.8,535.3 470.6,522.5 500,517.7" stroke="#bb1a40" stroke-width="1.35" stroke-dasharray="2.1 1.65" fill="none"/>
<circle cx="337.1" cy="551.4" r="1.9" fill="#8a1438"/>
<circle cx="366.8" cy="535.3" r="1.9" fill="#8a1438"/>
<circle cx="470.6" cy="522.5" r="1.9" fill="#8a1438"/>
<circle cx="500" cy="517.7" r="1.9" fill="#8a1438"/>
<circle cx="337.1" cy="549.1" r="1.9" fill="#1d4670"/>
<circle cx="366.8" cy="536.9" r="1.9" fill="#1d4670"/>
<circle cx="470.6" cy="522.3" r="1.9" fill="#1d4670"/>
<circle cx="500" cy="521.7" r="1.9" fill="#1d4670"/>
<text transform="translate(0.17,693.65) scale(1.063,1)" font-size="14.8" font-weight="bold" fill="#111">G</text>
<text x="74.8" y="706.2" font-size="10.6" fill="#4a4a4a" textLength="141.5" lengthAdjust="spacingAndGlyphs">Picture Sequence Memory Test</text>
<text transform="translate(20.9,778.25) rotate(-90)" x="0" y="0" text-anchor="middle" font-size="10.2" fill="#2a2a2a" stroke="#2a2a2a" stroke-width="0.18" textLength="71.9" lengthAdjust="spacingAndGlyphs">Mean standard score</text>
<path d="M50 712.9V820.7 M46.2 820.7H53.8 M46.2 831.7H53.8 M50 831.7V843.2 M46 843.2H241.3 M45.8 716.9H50 M45.8 734.2H50 M45.8 751.5H50 M45.8 768.8H50 M45.8 786.1H50 M45.8 803.4H50 M50 843.2V846.9 M64.6 843.2V846.9 M94.3 843.2V846.9 M198.1 843.2V846.9 M227.5 843.2V846.9" stroke="#111" stroke-width="1.5" fill="none"/>
<text x="41.9" y="720" font-size="8.8" fill="#333" text-anchor="end" textLength="13.8" lengthAdjust="spacingAndGlyphs" class="s">130</text>
<text x="41.9" y="737.3" font-size="8.8" fill="#333" text-anchor="end" textLength="13.8" lengthAdjust="spacingAndGlyphs" class="s">125</text>
<text x="41.9" y="754.6" font-size="8.8" fill="#333" text-anchor="end" textLength="13.8" lengthAdjust="spacingAndGlyphs" class="s">120</text>
<text x="41.9" y="771.9" font-size="8.8" fill="#333" text-anchor="end" textLength="13.8" lengthAdjust="spacingAndGlyphs" class="s">115</text>
<text x="41.9" y="789.2" font-size="8.8" fill="#333" text-anchor="end" textLength="13.8" lengthAdjust="spacingAndGlyphs" class="s">110</text>
<text x="41.9" y="806.5" font-size="8.8" fill="#333" text-anchor="end" textLength="13.8" lengthAdjust="spacingAndGlyphs" class="s">105</text>
<text x="41.9" y="823.8" font-size="8.8" fill="#333" text-anchor="end" textLength="13.8" lengthAdjust="spacingAndGlyphs" class="s">100</text>
<text x="41.9" y="846.3" font-size="8.8" fill="#333" text-anchor="end" textLength="4.6" lengthAdjust="spacingAndGlyphs" class="s">0</text>
<text x="67.3" y="726.6" font-size="7.5" fill="#333" textLength="50.7" lengthAdjust="spacingAndGlyphs" class="s">Randomization</text>
<path d="M95.5 731.7V842.9" stroke="#111" stroke-width="1" stroke-dasharray="1 1" fill="none"/>
<text transform="translate(54.1,854.9) rotate(-45)" x="0" y="0" text-anchor="end" font-size="9.9" fill="#333" textLength="39.2" lengthAdjust="spacingAndGlyphs">Screening</text>
<text transform="translate(68.7,854.9) rotate(-45)" x="0" y="0" text-anchor="end" font-size="9.9" fill="#333" textLength="43.6" lengthAdjust="spacingAndGlyphs">Donation-1</text>
<text transform="translate(98.4,854.9) rotate(-45)" x="0" y="0" text-anchor="end" font-size="9.9" fill="#333" textLength="23.5" lengthAdjust="spacingAndGlyphs">PTR-1</text>
<text transform="translate(202.2,854.9) rotate(-45)" x="0" y="0" text-anchor="end" font-size="9.9" fill="#333" textLength="43.4" lengthAdjust="spacingAndGlyphs">Donation-2</text>
<text transform="translate(231.6,854.9) rotate(-45)" x="0" y="0" text-anchor="end" font-size="9.9" fill="#333" textLength="23.5" lengthAdjust="spacingAndGlyphs">PTR-2</text>
<text x="150.4" y="817.4" font-size="7.7" fill="#333" textLength="88" lengthAdjust="spacingAndGlyphs" class="s">Mean Difference (95% CI)</text>
<text x="101.2" y="829.7" font-size="7.7" fill="#333" textLength="38.1" lengthAdjust="spacingAndGlyphs" class="s">Donation-2</text>
<text x="101.2" y="838.8" font-size="7.7" fill="#333" textLength="20" lengthAdjust="spacingAndGlyphs" class="s">PTR-2</text>
<text x="192.4" y="827.5" font-size="7.7" fill="#333" text-anchor="middle" textLength="50.06" lengthAdjust="spacingAndGlyphs" class="s">1.2 (−5.1 - 7.5)</text>
<text x="193.3" y="837.7" font-size="7.7" fill="#333" text-anchor="middle" textLength="50.06" lengthAdjust="spacingAndGlyphs" class="s">2.4 (−4.2 - 8.9)</text>
<text x="126.5" y="774.2" font-size="7.8" fill="#333" textLength="50" lengthAdjust="spacingAndGlyphs" class="s">Placebo group</text>
<text x="130.1" y="755.4" font-size="7.8" fill="#333" textLength="35.7" lengthAdjust="spacingAndGlyphs" class="s">Iron group</text>
<path d="M64.6 756.6V786.5 M63.1 756.6H66.1 M63.1 786.5H66.1 M94.3 741.8V772.1 M92.8 741.8H95.8 M92.8 772.1H95.8 M198.1 744.5V775.4 M196.6 744.5H199.6 M196.6 775.4H199.6 M227.5 729.2V761.8 M226 729.2H229 M226 761.8H229" stroke="#bb1a40" stroke-width="1.3" fill="none"/>
<path d="M64.6 745.6V775.1 M63.1 745.6H66.1 M63.1 775.1H66.1 M94.3 751.2V781.3 M92.8 751.2H95.8 M92.8 781.3H95.8 M198.1 748.6V779.4 M196.6 748.6H199.6 M196.6 779.4H199.6 M227.5 737.9V769.6 M226 737.9H229 M226 769.6H229" stroke="#2b5a89" stroke-width="1.3" fill="none"/>
<polyline points="64.6,760.4 94.3,766.3 198.1,763.8 227.5,753.4" stroke="#1d4670" stroke-width="1.3" fill="none"/>
<polyline points="64.6,771.8 94.3,757.3 198.1,760.1 227.5,746.3" stroke="#bb1a40" stroke-width="1.35" stroke-dasharray="2.1 1.65" fill="none"/>
<circle cx="64.6" cy="771.8" r="1.9" fill="#8a1438"/>
<circle cx="94.3" cy="757.3" r="1.9" fill="#8a1438"/>
<circle cx="198.1" cy="760.1" r="1.9" fill="#8a1438"/>
<circle cx="227.5" cy="746.3" r="1.9" fill="#8a1438"/>
<circle cx="64.6" cy="760.4" r="1.9" fill="#1d4670"/>
<circle cx="94.3" cy="766.3" r="1.9" fill="#1d4670"/>
<circle cx="198.1" cy="763.8" r="1.9" fill="#1d4670"/>
<circle cx="227.5" cy="753.4" r="1.9" fill="#1d4670"/>
</svg>
</body></html>
